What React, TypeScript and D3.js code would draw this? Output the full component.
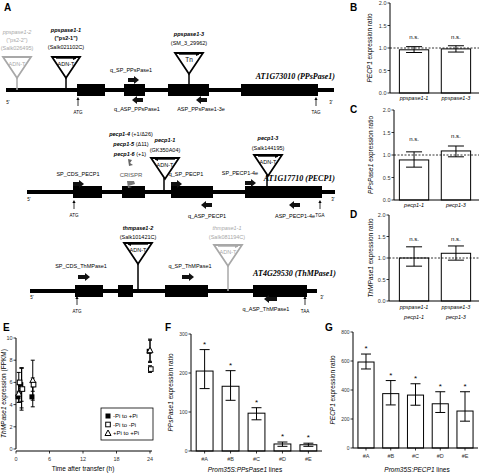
import React from "react";
import * as d3 from "d3";

// ---------- DATA ----------
// Panel B
const bCats = ["ppspase1-1", "ppspase1-3"];
const bVals = [0.96, 0.98];
const bErrLo = [0.9, 0.91];
const bErrHi = [1.03, 1.05];
// Panel C
const cCats = ["pecp1-1", "pecp1-3"];
const cVals = [0.89, 1.09];
const cErrLo = [0.73, 0.96];
const cErrHi = [1.07, 1.2];
// Panel D
const dCats = [["ppspase1-1", "pecp1-1"], ["ppspase1-3", "pecp1-3"]];
const dVals = [1.0, 1.11];
const dErrLo = [0.81, 0.95];
const dErrHi = [1.26, 1.28];
const ratioTicks = [0, 0.5, 1.0, 1.5, 2.0];
// Panel E
const eTimes = [0.5, 1, 3, 24];
const eFilled = [4.7, 5.8, 4.7, 8.8];
const eFilledErr = [0.5, 1.5, 0.9, 1.0];
const eOpen = [6.0, 5.4, 5.8, 7.2];
const eOpenErr = [0.9, 1.9, 0.6, 0.3];
const eTri = [5.0, 5.5, 6.2, 8.9];
const eTriErr = [0.8, 1.8, 1.8, 1.0];
const eXTicks = [0, 6, 12, 18, 24];
const eYTicks = [0, 2, 4, 6, 8, 10];
const eLegend = ["-Pi to +Pi", "-Pi to -Pi", "+Pi to +Pi"];
// Panel F
const fCats = ["#A", "#B", "#C", "#D", "#E"];
const fVals = [205, 166, 97, 18, 16];
const fErrLo = [160, 130, 80, 12, 12];
const fErrHi = [260, 206, 111, 23, 20];
const fTicks = [0, 100, 200, 300];
// Panel G
const gCats = ["#A", "#B", "#C", "#D", "#E"];
const gVals = [593, 375, 365, 305, 255];
const gErrLo = [545, 297, 295, 245, 185];
const gErrHi = [648, 465, 443, 388, 388];
const gTicks = [0, 200, 400, 600, 800];

// Panel A gene models (diagram units)
const gene1Exons = [[77, 105], [124, 145], [168, 209], [241, 318]];
const gene2Exons = [[73, 102], [122, 145], [171, 213], [245, 322]];
const gene3Exons = [[75, 103], [118, 133], [165, 208], [253, 307]];

const SANS = "'Liberation Sans Narrow', 'Liberation Sans', Arial, sans-serif";
const SERIF = "'Liberation Serif', 'Times New Roman', serif";
const GRAY = "#a8a8a8";

const gx = d3.scaleLinear().domain([0, 480]).range([0, 480]);

function BlockArrow({ x, y, dir, len = 11, color = "#111" }: any) {
  const hl = 5, hw = 4, sw = 2;
  let p: string;
  if (dir === "r") {
    p = `M${x},${y - sw}L${x + len - hl},${y - sw}L${x + len - hl},${y - hw}L${x + len},${y}L${x + len - hl},${y + hw}L${x + len - hl},${y + sw}L${x},${y + sw}Z`;
  } else {
    p = `M${x + len},${y - sw}L${x + hl},${y - sw}L${x + hl},${y - hw}L${x},${y}L${x + hl},${y + hw}L${x + hl},${y + sw}L${x + len},${y + sw}Z`;
  }
  return <path d={p} fill={color} />;
}

function UpArrow({ x, y, label }: any) {
  return (
    <g>
      <line x1={x} x2={x} y1={y + 9} y2={y + 2} stroke="#000" strokeWidth={0.8} />
      <path d={`M${x - 1.6},${y + 3}L${x},${y}L${x + 1.6},${y + 3}Z`} fill="#000" />
      <text x={x} y={y + 17} fontSize={4.5} textAnchor="middle" fontFamily={SANS}>{label}</text>
    </g>
  );
}

function Insert({ cx, top, lineY, color = "#000", label = "ADN-T", arrowDir = "r", stemX }: any) {
  const w = 14, h = 21;
  const sx = stemX ?? cx;
  return (
    <g>
      <line x1={sx} x2={sx} y1={top + h - 1} y2={lineY} stroke={color} strokeWidth={1.5} />
      <path d={`M${cx - w},${top}L${cx + w},${top}L${cx},${top + h}Z`} fill="#fff" stroke={color} strokeWidth={1.8} strokeLinejoin="miter" />
      {arrowDir && (
        <g>
          <line x1={cx - 10} x2={cx + 10} y1={top + 1.5} y2={top + 1.5} stroke={color} strokeWidth={0.7} />
          {arrowDir === "r" ? (
            <path d={`M${cx + 7},${top + 0}L${cx + 10.5},${top + 1.5}L${cx + 7},${top + 3}Z`} fill={color} />
          ) : (
            <path d={`M${cx - 7},${top + 0}L${cx - 10.5},${top + 1.5}L${cx - 7},${top + 3}Z`} fill={color} />
          )}
        </g>
      )}
      <text x={cx} y={top + 9} fontSize={label === "Tn" ? 6.5 : 5.5} textAnchor="middle" fontFamily={SANS} fill={color}>{label}</text>
    </g>
  );
}

function Gene({ x1, x2, y, exons }: any) {
  return (
    <g>
      <line x1={gx(x1)} x2={gx(x2)} y1={y} y2={y} stroke="#000" strokeWidth={4} />
      {exons.map((e: number[], i: number) => (
        <rect key={i} x={gx(e[0])} y={y - 6} width={gx(e[1]) - gx(e[0])} height={12} fill="#000" />
      ))}
    </g>
  );
}

function T({ x, y, children, size = 5.5, anchor = "middle", color = "#000", weight = "normal", style = "normal", family = SANS }: any) {
  return (
    <text x={x} y={y} fontSize={size} textAnchor={anchor} fill={color} fontWeight={weight} fontStyle={style} fontFamily={family}>
      {children}
    </text>
  );
}

function PanelA() {
  return (
    <g>
      {/* Gene 1 */}
      <Gene x1={6} x2={334} y={90} exons={gene1Exons} />
      <Insert cx={17} top={57} lineY={90} color={GRAY} arrowDir={null} />
      <Insert cx={66} top={57} lineY={90} arrowDir="r" />
      <Insert cx={189} top={53} lineY={90} label="Tn" arrowDir="r" />
      <T x={17} y={34} color={GRAY} style="italic">ppspase1-2</T>
      <T x={17} y={42} color={GRAY}>("ps2-2")</T>
      <T x={17} y={50} color={GRAY}>(Salk026495)</T>
      <T x={66} y={32} weight="bold" style="italic">ppspase1-1</T>
      <T x={66} y={40} weight="bold">("ps2-1")</T>
      <T x={66} y={49}>(Salk021102C)</T>
      <T x={189} y={36} weight="bold" style="italic">ppspase1-3</T>
      <T x={189} y={45}>(SM_3_29962)</T>
      <T x={131} y={72}>q_SP_PPsPase1</T>
      <BlockArrow x={128} y={80} dir="r" />
      <BlockArrow x={132} y={100} dir="l" />
      <T x={137} y={111}>q_ASP_PPsPase1</T>
      <BlockArrow x={196} y={100} dir="l" />
      <T x={201} y={111}>ASP_PPsPase1-3e</T>
      <T x={335} y={79} size={8} anchor="end" weight="bold" style="italic" family={SERIF}>AT1G73010 (PPsPase1)</T>
      <T x={8} y={104} size={4.5}>5'</T>
      <T x={331} y={104} size={4.5}>3'</T>
      <UpArrow x={78} y={97} label="ATG" />
      <UpArrow x={316} y={97} label="TAG" />

      {/* Gene 2 */}
      <Gene x1={27} x2={335} y={192} exons={gene2Exons} />
      <text x={131} y={136} fontSize={5.5} textAnchor="middle" fontFamily={SANS}>
        <tspan fontWeight="bold" fontStyle="italic">pecp1-4</tspan> (+1/Δ26)
      </text>
      <text x={131} y={146} fontSize={5.5} textAnchor="middle" fontFamily={SANS}>
        <tspan fontWeight="bold" fontStyle="italic">pecp1-5</tspan> (Δ11)
      </text>
      <text x={130} y={156} fontSize={5.5} textAnchor="middle" fontFamily={SANS}>
        <tspan fontWeight="bold" fontStyle="italic">pecp1-6</tspan> (+1)
      </text>
      <path d="M128,159 L132,160 L130,163 L133,165 L129,166 Z" fill="#666" />
      <T x={131} y={177} size={6} color="#555">CRISPR</T>
      <path d="M127,181 L134,181 L135,184 L128,186 L132,187 L128,188 Z" fill="#777" />
      <Insert cx={165} top={158} lineY={192} arrowDir="l" stemX={164} />
      <T x={165} y={142} weight="bold" style="italic">pecp1-1</T>
      <T x={165} y={152}>(GK350A04)</T>
      <Insert cx={268} top={155} lineY={192} arrowDir="r" stemX={267} />
      <T x={268} y={140} weight="bold" style="italic">pecp1-3</T>
      <T x={268} y={150}>(Salk144195)</T>
      <T x={78} y={176}>SP_CDS_PECP1</T>
      <BlockArrow x={73} y={184} dir="r" />
      <T x={186} y={176}>q_SP_PECP1</T>
      <BlockArrow x={171} y={184} dir="r" />
      <T x={240} y={175}>SP_PECP1-4e</T>
      <BlockArrow x={245} y={183} dir="r" />
      <BlockArrow x={201} y={205} dir="l" />
      <T x={207} y={218}>q_ASP_PECP1</T>
      <BlockArrow x={289} y={205} dir="l" />
      <T x={295} y={218}>ASP_PECP1-4e</T>
      <T x={335} y={181} size={8} anchor="end" weight="bold" style="italic" family={SERIF}>AT1G17710 (PECP1)</T>
      <T x={29} y={201} size={4.5}>5'</T>
      <T x={333} y={201} size={4.5}>3'</T>
      <UpArrow x={74} y={200} label="ATG" />
      <UpArrow x={320} y={200} label="TGA" />

      {/* Gene 3 */}
      <Gene x1={30} x2={317} y={291} exons={gene3Exons} />
      <Insert cx={138} top={243} lineY={291} arrowDir="l" />
      <T x={138} y={230} weight="bold" style="italic">thmpase1-2</T>
      <T x={138} y={239}>(Salk101421C)</T>
      <Insert cx={228} top={245} lineY={291} color={GRAY} arrowDir="r" />
      <T x={227} y={230} color={GRAY} style="italic">thmpase1-1</T>
      <T x={227} y={239} color={GRAY}>(Salk081194C)</T>
      <T x={81} y={268}>SP_CDS_ThMPase1</T>
      <BlockArrow x={78} y={277} dir="r" len={12} />
      <T x={190} y={268}>q_SP_ThMPase1</T>
      <BlockArrow x={182} y={277} dir="r" len={12} />
      <BlockArrow x={264} y={299} dir="l" len={13} />
      <T x={266} y={311}>q_ASP_ThMPase1</T>
      <T x={336} y={276} size={8} anchor="end" weight="bold" style="italic" family={SERIF}>AT4G29530 (ThMPase1)</T>
      <T x={32} y={299} size={4.5}>5'</T>
      <T x={322} y={299} size={4.5}>3'</T>
      <UpArrow x={77} y={296} label="ATG" />
      <UpArrow x={305} y={296} label="TAA" />
    </g>
  );
}

function YAxis({ x, scale, ticks, fmt, fontSize = 5.5 }: any) {
  const [r0, r1] = scale.range();
  return (
    <g>
      <line x1={x} x2={x} y1={r0} y2={r1} stroke="#000" strokeWidth={1} />
      {ticks.map((t: number) => (
        <g key={t}>
          <line x1={x - 2.5} x2={x} y1={scale(t)} y2={scale(t)} stroke="#000" strokeWidth={0.8} />
          <text x={x - 3.5} y={scale(t) + 2} fontSize={fontSize} textAnchor="end" fontFamily={SANS} fill="#333">{fmt(t)}</text>
        </g>
      ))}
    </g>
  );
}

function ErrBar({ x, lo, hi, w = 7, color = "#000", sw = 1 }: any) {
  return (
    <g stroke={color} strokeWidth={sw}>
      <line x1={x} x2={x} y1={lo} y2={hi} />
      <line x1={x - w} x2={x + w} y1={lo} y2={lo} />
      <line x1={x - w} x2={x + w} y1={hi} y2={hi} />
    </g>
  );
}

function RatioPanel({ axisX, y0, y2, cats, vals, lo, hi, ylabel, twoLine, labelX, nsY }: any) {
  const y = d3.scaleLinear().domain([0, 2]).range([y0, y2]);
  const x = d3.scaleBand<number>().domain(cats.map((_: any, i: number) => i)).range([391, 479]).paddingInner(0.3).paddingOuter(0.2);
  return (
    <g>
      {cats.map((c: any, i: number) => {
        const cx = x(i)! + x.bandwidth() / 2;
        return (
          <g key={i}>
            <rect x={x(i)} y={y(vals[i])} width={x.bandwidth()} height={y0 - y(vals[i])} fill="#fff" stroke="#000" strokeWidth={1} />
            <ErrBar x={cx} lo={y(lo[i])} hi={y(hi[i])} w={8} />
            <text x={cx} y={nsY[i]} fontSize={6} textAnchor="middle" fontFamily={SANS}>n.s.</text>
            {twoLine ? (
              <g>
                <text x={cx} y={y0 + 8} fontSize={5.5} textAnchor="middle" fontStyle="italic" fontFamily={SANS}>{c[0]}</text>
                <text x={cx} y={y0 + 18} fontSize={5.5} textAnchor="middle" fontStyle="italic" fontFamily={SANS}>{c[1]}</text>
              </g>
            ) : (
              <text x={cx} y={y0 + 7} fontSize={5.5} textAnchor="middle" fontStyle="italic" fontFamily={SANS}>{c}</text>
            )}
          </g>
        );
      })}
      <line x1={axisX} x2={479} y1={y(1)} y2={y(1)} stroke="#000" strokeWidth={0.8} strokeDasharray="2,1.5" />
      <line x1={axisX} x2={479} y1={y0} y2={y0} stroke="#000" strokeWidth={1} />
      <YAxis x={axisX} scale={y} ticks={ratioTicks} fmt={(t: number) => t.toFixed(1)} />
      <text transform={`translate(${labelX},${(y0 + y2) / 2}) rotate(-90)`} fontSize={6.5} textAnchor="middle" fontFamily={SANS}>
        <tspan fontStyle="italic">{ylabel}</tspan> expression ratio
      </text>
    </g>
  );
}

function PanelE() {
  const x = d3.scaleLinear().domain([0, 24]).range([16, 150]);
  const y = d3.scaleLinear().domain([0, 10]).range([449, 338]);
  const series = [
    { v: eFilled, e: eFilledErr, kind: "fs" },
    { v: eTri, e: eTriErr, kind: "tri" },
    { v: eOpen, e: eOpenErr, kind: "os" },
  ];
  const marker = (kind: string, cx: number, cy: number, key: any) => {
    if (kind === "fs") return <rect key={key} x={cx - 2.5} y={cy - 2.5} width={5} height={5} fill="#000" />;
    if (kind === "os") return <rect key={key} x={cx - 2.3} y={cy - 2.3} width={4.6} height={4.6} fill="#fff" stroke="#000" strokeWidth={1} />;
    return <path key={key} d={`M${cx},${cy - 3}L${cx + 3},${cy + 2.5}L${cx - 3},${cy + 2.5}Z`} fill="#fff" stroke="#000" strokeWidth={1} />;
  };
  return (
    <g>
      <line x1={16} x2={152} y1={451} y2={451} stroke="#000" strokeWidth={1} />
      {eXTicks.map((t) => (
        <g key={t}>
          <line x1={x(t)} x2={x(t)} y1={451} y2={453.5} stroke="#000" strokeWidth={0.8} />
          <text x={x(t)} y={461} fontSize={5.5} textAnchor="middle" fontFamily={SANS} fill="#333">{t}</text>
        </g>
      ))}
      <YAxis x={16} scale={y} ticks={eYTicks} fmt={(t: number) => String(t)} />
      {series.map((s, si) => (
        <g key={si}>
          {eTimes.map((t, i) => (
            <ErrBar key={i} x={x(t)} lo={y(s.v[i] - s.e[i])} hi={y(s.v[i] + s.e[i])} w={2} sw={1} />
          ))}
        </g>
      ))}
      {series.map((s, si) => (
        <g key={"m" + si}>{eTimes.map((t, i) => marker(s.kind, x(t) + (si - 1) * 0.8, y(s.v[i]), i))}</g>
      ))}
      <text x={83} y={471} fontSize={6.5} textAnchor="middle" fontFamily={SANS}>Time after transfer (h)</text>
      <text transform={`translate(6,${(449 + 338) / 2}) rotate(-90)`} fontSize={6.5} textAnchor="middle" fontFamily={SANS}>
        <tspan fontStyle="italic">ThMPase1</tspan> expression (FPKM)
      </text>
      <rect x={101} y={408} width={52} height={32} fill="#fff" stroke="#000" strokeWidth={0.8} />
      {eLegend.map((l, i) => {
        const ly = 416 + i * 8.5;
        const k = ["fs", "os", "tri"][i];
        return (
          <g key={l}>
            {marker(k, 108, ly, "lg" + i)}
            <text x={113} y={ly + 2.2} fontSize={6} fontFamily={SANS}>{l}</text>
          </g>
        );
      })}
    </g>
  );
}

function LinesPanel({ axisX, xEnd, y0, yTop, domainMax, cats, vals, lo, hi, ticks, ylabel, title, labelX, titleX }: any) {
  const y = d3.scaleLinear().domain([0, domainMax]).range([y0, yTop]);
  const x = d3.scaleBand<string>().domain(cats).range([axisX, xEnd]).paddingInner(0.35).paddingOuter(0.2);
  return (
    <g>
      {cats.map((c: string, i: number) => {
        const cx = x(c)! + x.bandwidth() / 2;
        return (
          <g key={c}>
            <rect x={x(c)} y={y(vals[i])} width={x.bandwidth()} height={y0 - y(vals[i])} fill="#fff" stroke="#000" strokeWidth={1} />
            <ErrBar x={cx} lo={y(lo[i])} hi={y(hi[i])} w={5} />
            <text x={cx} y={y(hi[i]) - 3} fontSize={8} textAnchor="middle" fontFamily={SANS}>*</text>
            <line x1={cx} x2={cx} y1={y0} y2={y0 + 2.5} stroke="#000" strokeWidth={0.8} />
            <text x={cx} y={y0 + 10} fontSize={5.5} textAnchor="middle" fontFamily={SANS} fill="#333">{c}</text>
          </g>
        );
      })}
      <line x1={axisX} x2={xEnd} y1={y0} y2={y0} stroke="#000" strokeWidth={1} />
      <YAxis x={axisX} scale={y} ticks={ticks} fmt={(t: number) => String(t)} fontSize={5} />
      <text x={titleX} y={472} fontSize={6.5} textAnchor="middle" fontFamily={SANS}>
        <tspan fontStyle="italic">{title}</tspan> lines
      </text>
      <text transform={`translate(${labelX},${(y0 + yTop) / 2}) rotate(-90)`} fontSize={6.5} textAnchor="middle" fontFamily={SANS}>
        <tspan fontStyle="italic">{ylabel}</tspan> expression ratio
      </text>
    </g>
  );
}

export default function App() {
  return (
    <svg width={480} height={474} viewBox="0 0 480 474" style={{ position: "absolute", left: 0, top: 0, background: "#fff" }}>
      <rect width={480} height={474} fill="#fff" />
      <PanelA />
      <RatioPanel axisX={390} y0={93} y2={3} cats={bCats} vals={bVals} lo={bErrLo} hi={bErrHi} ylabel="PECP1" labelX={372} nsY={[39, 39]} />
      <RatioPanel axisX={394} y0={200} y2={110} cats={cCats} vals={cVals} lo={cErrLo} hi={cErrHi} ylabel="PPsPase1" labelX={373} nsY={[141, 138]} />
      <RatioPanel axisX={389} y0={301} y2={215} cats={dCats} vals={dVals} lo={dErrLo} hi={dErrHi} ylabel="ThMPase1" labelX={373} twoLine nsY={[241, 241]} />
      <PanelE />
      <LinesPanel axisX={191} xEnd={322} y0={451} yTop={334} domainMax={300} cats={fCats} vals={fVals} lo={fErrLo} hi={fErrHi} ticks={fTicks} ylabel="PPsPase1" title="Prom35S:PPsPase1" labelX={173} titleX={245} />
      <LinesPanel axisX={353} xEnd={478} y0={448} yTop={332} domainMax={800} cats={gCats} vals={gVals} lo={gErrLo} hi={gErrHi} ticks={gTicks} ylabel="PECP1" title="Prom35S:PECP1" labelX={335} titleX={417} />
      <text x={4} y={11} fontSize={10} fontWeight="bold" fontFamily={SANS}>A</text>
      <text x={350} y={11} fontSize={10} fontWeight="bold" fontFamily={SANS}>B</text>
      <text x={350} y={113} fontSize={10} fontWeight="bold" fontFamily={SANS}>C</text>
      <text x={350} y={218} fontSize={10} fontWeight="bold" fontFamily={SANS}>D</text>
      <text x={3} y={331} fontSize={10} fontWeight="bold" fontFamily={SANS}>E</text>
      <text x={165} y={331} fontSize={10} fontWeight="bold" fontFamily={SANS}>F</text>
      <text x={325} y={331} fontSize={10} fontWeight="bold" fontFamily={SANS}>G</text>
    </svg>
  );
}
